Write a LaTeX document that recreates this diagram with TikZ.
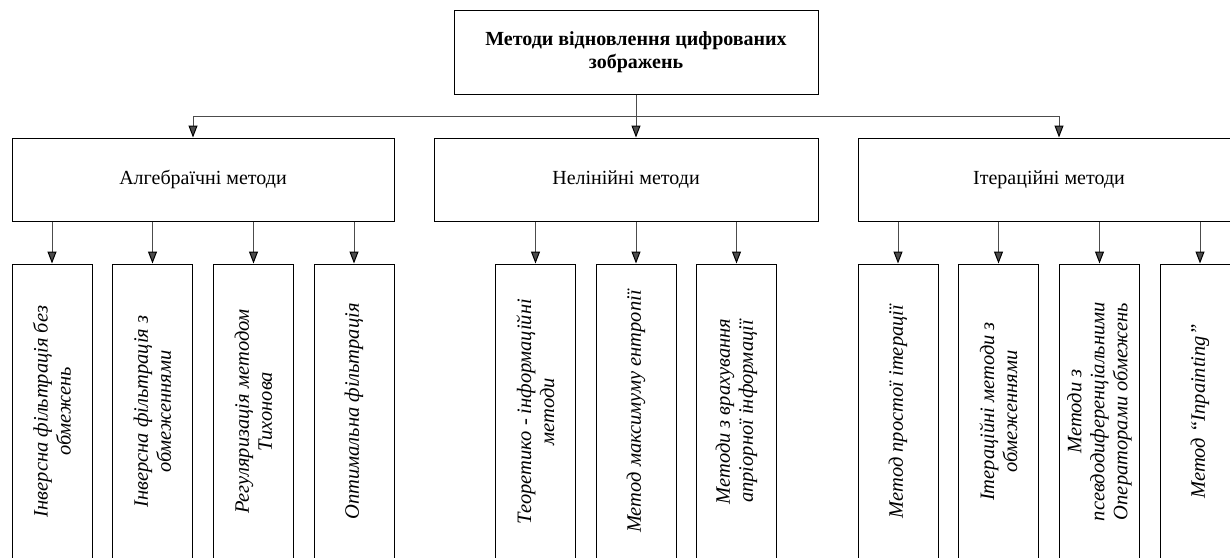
\documentclass[tikz,border=0pt]{standalone}
\usepackage{fontspec}
\setmainfont{Liberation Serif}
\usepackage{tikz}
\usetikzlibrary{positioning,arrows.meta}

\begin{document}
\begin{tikzpicture}[x=1pt,y=-1pt,
		box/.style={draw,line width=1pt,align=center,inner sep=0pt,font=\fontsize{20}{23}\selectfont},
		leaf/.style={box,rotate=90,minimum width=295pt,minimum height=80pt,font=\itshape\fontsize{20.5}{23}\selectfont},
		conn/.style={black!70,line width=1pt,-{Triangle[width=9pt,length=12pt,color=black]}}]
		\useasboundingbox (0,0) rectangle (1230,557);
		\clip (0,0) rectangle (1230,557);
		\node[box,minimum width=364pt,minimum height=84pt,font=\bfseries\fontsize{20}{23}\selectfont] (root) at (636,52) {Методи відновлення цифрованих\\зображень};
		\node[box,minimum width=382pt,minimum height=83pt] (alg) at (203,179.5) {Алгебраїчні методи};
		\node[box,minimum width=384pt,minimum height=83pt] (nonlin) at (626,179.5) {Нелінійні методи};
		\node[box,minimum width=382pt,minimum height=83pt] (iter) at (1049,179.5) {Ітераційні методи};
		\node[leaf] (alg-1) at (52,411.5) {Інверсна фільтрація без\\обмежень};
		\node[leaf] (alg-2) at (152.5,411.5) {Інверсна фільтрація з\\обмеженнями};
		\node[leaf] (alg-3) at (253.5,411.5) {Регуляризація методом\\Тихонова};
		\node[leaf] (alg-4) at (354,411.5) {Оптимальна фільтрація};
		\node[leaf] (nonlin-1) at (535.5,411.5) {Теоретико - інформаційні\\методи};
		\node[leaf] (nonlin-2) at (636,411.5) {Метод максимуму ентропії};
		\node[leaf] (nonlin-3) at (736.5,411.5) {Методи з врахування\\апріорної інформації};
		\node[leaf] (iter-1) at (898,411.5) {Метод простої ітерації};
		\node[leaf] (iter-2) at (998.5,411.5) {Ітераційні методи з\\обмеженнями};
		\node[leaf] (iter-3) at (1099.5,411.5) {Методи з\\псевдодиференціальними\\Операторами обмежень};
		\node[leaf] (iter-4) at (1200,411.5) {Метод “Inpainting”};
		\coordinate (bus-l) at (193,116);
		\coordinate (bus-r) at (1059,116);
		\draw[black!70,line width=1pt] (bus-l) -- (bus-r);
		\path[conn]
		(root.south) edge (root.south |- nonlin.north)
		(bus-l) edge (bus-l |- alg.north)
		(bus-r) edge (bus-r |- iter.north)
		(alg.south -| alg-1) edge (alg-1.east)
		(alg.south -| alg-2) edge (alg-2.east)
		(alg.south -| alg-3) edge (alg-3.east)
		(alg.south -| alg-4) edge (alg-4.east)
		(nonlin.south -| nonlin-1) edge (nonlin-1.east)
		(nonlin.south -| nonlin-2) edge (nonlin-2.east)
		(nonlin.south -| nonlin-3) edge (nonlin-3.east)
		(iter.south -| iter-1) edge (iter-1.east)
		(iter.south -| iter-2) edge (iter-2.east)
		(iter.south -| iter-3) edge (iter-3.east)
		(iter.south -| iter-4) edge (iter-4.east);
	\end{tikzpicture}
\end{document}
